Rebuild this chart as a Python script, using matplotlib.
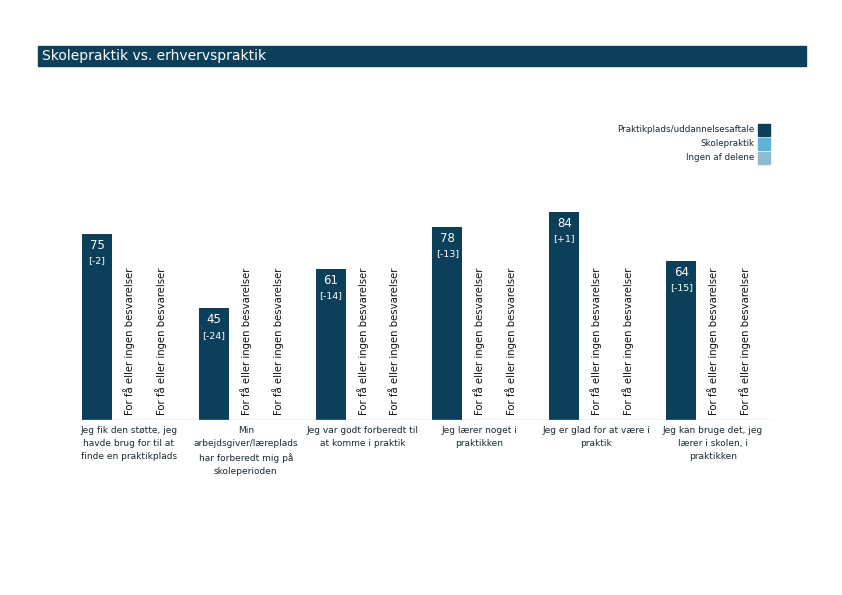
import matplotlib.pyplot as plt
from matplotlib.patches import Rectangle

categories = [
    "Jeg fik den støtte, jeg\nhavde brug for til at\nfinde en praktikplads",
    "Min\narbejdsgiver/læreplads\nhar forberedt mig på\nskoleperioden",
    "Jeg var godt forberedt til\nat komme i praktik",
    "Jeg lærer noget i\npraktikken",
    "Jeg er glad for at være i\npraktik",
    "Jeg kan bruge det, jeg\nlærer i skolen, i\npraktikken",
]
praktikplads = [75, 45, 61, 78, 84, 64]
diffs = ["[-2]", "[-24]", "[-14]", "[-13]", "[+1]", "[-15]"]
series = ["Praktikplads/uddannelsesaftale", "Skolepraktik", "Ingen af delene"]
colors = ["#0b3f5a", "#5fb3d8", "#8dbbd0"]
no_data = "For få eller ingen besvarelser"

fig = plt.figure(figsize=(8.42, 5.95), dpi=100)

# title bar
fig.patches.append(Rectangle((38 / 842, 1 - 66 / 595), 768 / 842, 20 / 595,
                             transform=fig.transFigure, color="#0b3f5a"))
fig.text(42 / 842, 1 - 56 / 595, "Skolepraktik vs. erhvervspraktik", color="white",
         fontsize=10, va="center", ha="left")

# legend
for i, (name, c) in enumerate(zip(series, colors)):
    y = 130 + i * 14
    fig.patches.append(Rectangle((758 / 842, 1 - (y + 6) / 595), 12 / 842, 12 / 595,
                                 transform=fig.transFigure, color=c))
    fig.text(754 / 842, 1 - y / 595, name, fontsize=6.3, ha="right", va="center",
             color="#1a2a33")

ax = fig.add_axes([80 / 842, 1 - 420 / 595, 692 / 842, 248 / 595])
unit = 32
step = 117 / unit
xs = [g * step for g in range(len(categories))]
ax.bar(xs, praktikplads, width=30 / unit, color=colors[0])

for g, x in enumerate(xs):
    v = praktikplads[g]
    ax.text(x, v - 2, str(v), color="white", fontsize=8.5, ha="center", va="top")
    ax.text(x, v - 9, diffs[g], color="white", fontsize=6.8, ha="center", va="top")
    for k in (1, 2):
        ax.text(x + k, 2, no_data, rotation=90, fontsize=7.3, ha="center", va="bottom",
                color="#111111")
    ax.text(x + 1, -2.3, categories[g], fontsize=6.5, ha="center", va="top",
            color="#1a2a33", linespacing=1.6)

ax.set_xlim(-17 / unit, xs[-1] + 2 + 27 / unit)
ax.set_ylim(0, 100)
ax.axhline(0, color="#cccccc", lw=1)
ax.axis("off")

fig.savefig("out.png", dpi=100)
